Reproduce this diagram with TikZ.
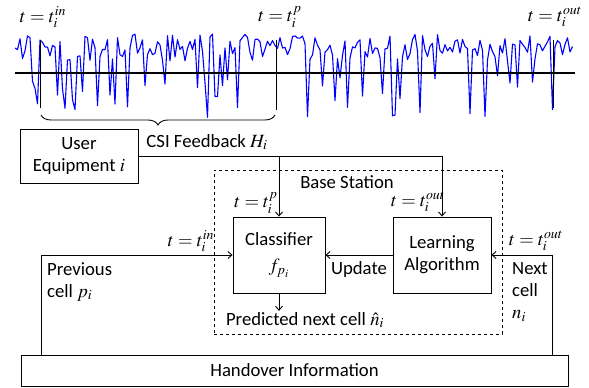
\documentclass[tikz,border=0pt]{standalone}
\usepackage{mathptmx}
\usepackage[no-math]{fontspec}
\setmainfont{Carlito}
\usetikzlibrary{arrows.meta,
	decorations.pathreplacing,
	positioning}

\begin{document}
\begin{tikzpicture}[x=1pt,y=-1pt,
    >={Straight Barb[length=4pt,width=7pt]},
    font=\fontsize{18.7}{22}\selectfont]
    \tikzstyle{blk}=[draw,line width=0.9pt,align=center,inner sep=0pt]
    \tikzstyle{lbl}=[inner sep=1pt,align=left]
    \tikzstyle{conn}=[line width=0.9pt]
    \useasboundingbox (0,0) rectangle (589,388);
    % channel trace
    \pgfmathsetseed{11}
    \draw[blue,line width=1.1pt,line join=round] (15,48)
      \foreach \x in {17.5,20,...,573} { -- (\x,{rnd<0.17 ? 74+44*rnd : 34+27*rnd}) };
    \draw[line width=1.1pt] (15,73) -- (575,73);
    \node[lbl] (tin) at (43,17) {$t=t_i^{in}$};
    \node[lbl] (tp) at (280,17) {$t=t_i^{p}$};
    \node[lbl] (tout) at (555,17) {$t=t_i^{out}$};
    \coordinate (m1) at (40,40);
    \coordinate (m2) at (276,40);
    \coordinate (m3) at (553,40);
    \draw[conn] (m1) -- ++(0,68);
    \draw[conn] (m2) -- ++(0,70);
    \draw[conn] (m3) -- ++(0,68);
    \draw[conn,decorate,decoration={brace,mirror,amplitude=10pt}] (41,115) -- (275,115);
    % blocks
    \node[blk,minimum width=118,minimum height=54] (ue) at (79,156) {User\\Equipment $i$};
    \node[lbl] (csi) at (207,142) {CSI Feedback $H_i$};
    \node[draw,dashed,line width=0.8pt,minimum width=288,minimum height=164,inner sep=0pt] (bs) at (358,252) {};
    \node[lbl] (bsl) at (347,182) {Base Station};
    \node[blk,minimum width=92,minimum height=76] (cls) at (279,255) {Classifier\\[4pt]$f_{p_i}$};
    \node[blk,minimum width=98,minimum height=76] (lrn) at (442,255) {Learning\\Algorithm};
    \node[blk,minimum width=547,minimum height=31] (ho) at (294.5,370.5) {Handover Information};
    \node[lbl] (tcp) at (256,203) {$t=t_i^{p}$};
    \node[lbl] (tco) at (418,202) {$t=t_i^{out}$};
    \node[lbl] (tci) at (191,241) {$t=t_i^{in}$};
    \node[lbl] (tno) at (536,241) {$t=t_i^{out}$};
    \node[lbl] (upd) at (359,270) {Update};
    \node[lbl] (pred) at (305,320) {Predicted next cell $\hat{n}_i$};
    \node[lbl,anchor=north west] (prev) at (46,261) {Previous\\cell $p_i$};
    \node[lbl,anchor=north west] (next) at (511,261) {Next\\cell\\$n_i$};
    \coordinate (hoL) at (41,355);
    \coordinate (hoR) at (552,355);
    % connectors
    \draw[conn,->] (ue.east) -| (lrn.north);
    \draw[conn,->] (ue.east -| cls.north) -- (cls.north);
    \draw[conn,->] (lrn.west) -- (cls.east);
    \draw[conn,->] (cls.south) -- (cls.south |- pred.north);
    \draw[conn,->] (hoL) |- (cls.west);
    \draw[conn,->] (hoR) |- (lrn.east);
\end{tikzpicture}
\end{document}
